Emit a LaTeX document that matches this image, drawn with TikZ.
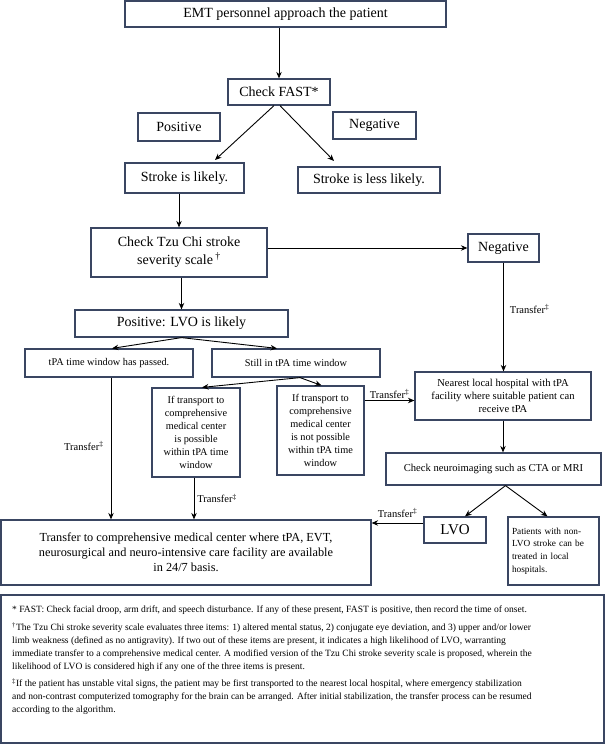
\documentclass[tikz,border=0pt]{standalone}
\usepackage{fontspec}
\setmainfont{Liberation Serif}
\usetikzlibrary{arrows.meta,calc}
\definecolor{boxc}{RGB}{58,70,98}
\newcommand{\trlab}{Transfer\textsuperscript{‡}}
\tikzset{
 bx/.style={draw=boxc, line width=1.2pt, fill=white, inner sep=0pt, align=center, font=\fontsize{14}{18}\selectfont},
 sm/.style={font=\fontsize{10.3}{13}\selectfont},
 arr/.style={-{Stealth[length=6.5pt,width=5.5pt]}, line width=0.9pt, black},
 lbl/.style={font=\fontsize{10.5}{12}\selectfont, inner sep=1pt},
}
\begin{document}
\begin{tikzpicture}[x=1pt,y=-1pt]
\useasboundingbox (0,0) rectangle (605,748);
\node[bx, minimum width=321pt, minimum height=26pt] (emt) at (285.5,14) {EMT personnel approach the patient};
\node[bx, minimum width=102pt, minimum height=26pt] (fast) at (279,92) {Check FAST*};
\node[bx, minimum width=82pt, minimum height=28pt] (pos) at (179,127) {Positive};
\node[bx, minimum width=83pt, minimum height=27pt] (neg1) at (374.5,125.5) {Negative};
\node[bx, minimum width=119pt, minimum height=30pt] (likely) at (184.5,178) {Stroke is likely.};
\node[bx, minimum width=142pt, minimum height=26pt] (less) at (369,180) {Stroke is less likely.};
\node[bx, minimum width=176pt, minimum height=49pt] (tzu) at (179,252.5) {Check Tzu Chi stroke\\severity scale\,\textsuperscript{†}};
\node[bx, minimum width=71pt, minimum height=28pt] (neg2) at (503.5,248) {Negative};
\node[bx, minimum width=213pt, minimum height=27pt] (lvo1) at (181.5,323.5) {Positive: LVO is likely};
\node[bx, sm, minimum width=168pt, minimum height=28pt] (passed) at (109,363) {tPA time window has passed.};
\node[bx, sm, minimum width=168pt, minimum height=28pt] (still) at (296,363) {Still in tPA time window};
\node[bx, sm, minimum width=88pt, minimum height=89pt] (poss) at (196,432.5) {If transport to\\comprehensive\\medical center\\is possible\\within tPA time\\window};
\node[bx, sm, minimum width=87pt, minimum height=89pt] (notposs) at (320.5,430.5) {If transport to\\comprehensive\\medical center\\is not possible\\within tPA time\\window};
\node[bx, font=\fontsize{10.6}{13.3}\selectfont, minimum width=176pt, minimum height=48pt] (nearest) at (503,396) {Nearest local hospital with tPA\\facility where suitable patient can\\receive tPA};
\node[bx, font=\fontsize{10.6}{13}\selectfont, minimum width=215pt, minimum height=32pt] (neuro) at (493.5,469) {Check neuroimaging such as CTA or MRI};
\node[bx, font=\fontsize{12.3}{15}\selectfont, minimum width=370pt, minimum height=65pt] (big) at (186,552.5) {Transfer to comprehensive medical center where tPA, EVT,\\neurosurgical and neuro-intensive care facility are available\\in 24/7 basis.};
\node[bx, font=\fontsize{15}{18}\selectfont, minimum width=62pt, minimum height=26pt] (lvo2) at (455,530) {LVO};
\node[bx, align=left, text width=83pt, font=\fontsize{9.3}{12.7}\selectfont, minimum width=91pt, minimum height=68pt] (nonlvo) at (553.5,551) {Patients with non-\\LVO stroke can be\\treated in local\\hospitals.};
\node[draw=boxc, line width=1.2pt, minimum width=603pt, minimum height=148pt, inner sep=0pt] (foot) at (302.5,669) {};
\node[anchor=north west, inner sep=0pt, align=left, font=\fontsize{9.55}{12.8}\selectfont] (ftext) at (12,606) {* FAST: Check facial droop, arm drift, and speech disturbance. If any of these present, FAST is positive, then record the time of onset.\\[5pt]
\textsuperscript{†}The Tzu Chi stroke severity scale evaluates three items: 1) altered mental status, 2) conjugate eye deviation, and 3) upper and/or lower\\
limb weakness (defined as no antigravity). If two out of these items are present, it indicates a high likelihood of LVO, warranting\\
immediate transfer to a comprehensive medical center. A modified version of the Tzu Chi stroke severity scale is proposed, wherein the\\
likelihood of LVO is considered high if any one of the three items is present.\\[5pt]
\textsuperscript{‡}If the patient has unstable vital signs, the patient may be first transported to the nearest local hospital, where emergency stabilization\\
and non-contrast computerized tomography for the brain can be arranged. After initial stabilization, the transfer process can be resumed\\
according to the algorithm.};
% connectors
\draw[arr] (fast.north |- emt.south) -- (fast.north);
\coordinate (a1) at (215,160);
\coordinate (a2) at (334,161);
\draw[arr] ([xshift=-5pt]fast.south) -- (a1);
\draw[arr] ([xshift=1pt]fast.south) -- (a2);
\draw[arr] (tzu.north |- likely.south) -- (tzu.north);
\draw[arr] (tzu.east |- neg2.west) -- (neg2.west);
\draw[arr] (lvo1.north |- tzu.south) -- (lvo1.north);
\draw[arr] (lvo1.south) -- ([xshift=3pt]passed.north);
\draw[arr] (lvo1.south) -- ([xshift=-19pt]still.north);
\draw[arr] ([xshift=4pt]still.south) -- ([xshift=6pt]poss.north);
\draw[arr] ([xshift=4pt]still.south) -- ([xshift=1pt]notposs.north);
\draw[arr] (neg2.south) -- (neg2.south |- nearest.north) node[lbl, right, pos=0.43, xshift=5pt] {\trlab};
\draw[arr] ([yshift=30pt]notposs.east) coordinate (t1) -- (t1 -| nearest.west) node[lbl, midway, above] {\trlab};
\draw[arr] (nearest.south) -- (nearest.south |- neuro.north);
\draw[arr] ([xshift=12pt]neuro.south) -- ([xshift=10pt]lvo2.north);
\draw[arr] ([xshift=12pt]neuro.south) -- ([xshift=-6pt]nonlvo.north);
\draw[arr] ([yshift=7pt]lvo2.west) coordinate (t2) -- (t2 -| big.east) node[lbl, midway, above, yshift=4pt] {\trlab};
\draw[arr] ([xshift=2pt]passed.south) -- ([xshift=2pt]passed.south |- big.north) node[lbl, left, pos=0.48, xshift=-6pt] {\trlab};
\draw[arr] ([xshift=-2pt]poss.south) -- ([xshift=-2pt]poss.south |- big.north) node[lbl, right, pos=0.5, xshift=2pt] {\trlab};
\end{tikzpicture}
\end{document}
